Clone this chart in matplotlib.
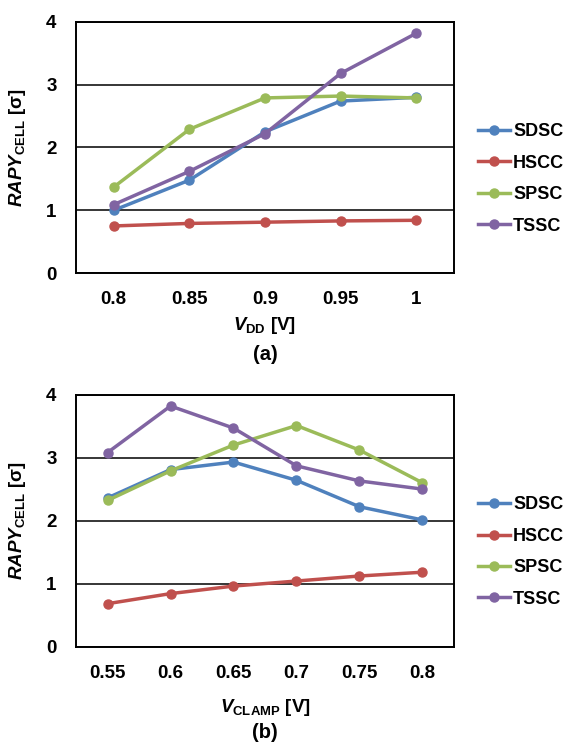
import matplotlib
matplotlib.use('Agg')
import matplotlib.pyplot as plt

plt.rcParams['font.family'] = ['Liberation Sans', 'DejaVu Sans']
plt.rcParams['font.weight'] = 'bold'
plt.rcParams['mathtext.fontset'] = 'custom'
plt.rcParams['mathtext.it'] = 'Liberation Sans:italic:bold'
plt.rcParams['mathtext.rm'] = 'Liberation Sans:bold'
plt.rcParams['mathtext.bf'] = 'Liberation Sans:bold'

# cell names and colours
cells = ['SDSC', 'HSCC', 'SPSC', 'TSSC']
colors = ['#4F81BD', '#C0504D', '#9BBB59', '#8064A2']

# (a) sweep of VDD
vdd = ['0.8', '0.85', '0.9', '0.95', '1']
vdd_sdsc = [1.00, 1.48, 2.25, 2.74, 2.80]
vdd_hscc = [0.75, 0.79, 0.81, 0.83, 0.84]
vdd_spsc = [1.37, 2.29, 2.79, 2.82, 2.79]
vdd_tssc = [1.09, 1.62, 2.22, 3.18, 3.82]

# (b) sweep of VCLAMP
vclamp = ['0.55', '0.6', '0.65', '0.7', '0.75', '0.8']
vcl_sdsc = [2.36, 2.81, 2.93, 2.64, 2.22, 2.01]
vcl_hscc = [0.68, 0.84, 0.96, 1.04, 1.12, 1.18]
vcl_spsc = [2.32, 2.79, 3.20, 3.51, 3.12, 2.60]
vcl_tssc = [3.08, 3.82, 3.47, 2.87, 2.63, 2.50]

W, H = 566, 747
FS = 13.5
fig = plt.figure(figsize=(W / 100, H / 100), dpi=100)


def draw(ax, xs, series, xlabel, xlabel_y, tag, tag_y):
    pos = list(range(len(xs)))
    for name, col, ys in zip(cells, colors, series):
        ax.plot(pos, ys, color=col, lw=2.5, marker='o', ms=6.5, label=name, zorder=3)
    ax.set_xlim(-0.5, len(xs) - 0.5)
    ax.set_ylim(0, 4)
    ax.set_yticks([0, 1, 2, 3, 4])
    ax.set_xticks(pos)
    ax.set_xticklabels(xs)
    ax.tick_params(length=0, labelsize=FS)
    ax.tick_params(axis='y', pad=14)
    ax.tick_params(axis='x', pad=13)
    for lab in ax.get_xticklabels() + ax.get_yticklabels():
        lab.set_fontweight('bold')
    ax.yaxis.grid(True, color='black', lw=1.1)
    ax.set_axisbelow(True)
    for sp in ax.spines.values():
        sp.set_linewidth(1.4)
        sp.set_color('black')
    ax.set_ylabel(r'$\mathit{RAPY}_{\mathrm{CELL}}$ [σ]', fontsize=FS, fontweight='bold')
    ax.yaxis.set_label_coords(-(76 - 28) / 378, 0.5)
    ax.legend(loc='center left', bbox_to_anchor=(1.02, 0.375), frameon=False,
              handlelength=1.8, handletextpad=0.16, labelspacing=0.8,
              prop={'weight': 'bold', 'size': 13})
    # axis title and panel tag, placed in figure pixels
    cx = (76 + 454) / 2 / W
    fig.text(cx, 1 - xlabel_y / H, xlabel, ha='center', va='center', fontsize=FS, fontweight='bold')
    fig.text(cx, 1 - tag_y / H, tag, ha='center', va='center', fontsize=FS + 1, fontweight='bold')


ax1 = fig.add_axes([76 / W, 1 - 273 / H, 378 / W, 251 / H])
draw(ax1, vdd, [vdd_sdsc, vdd_hscc, vdd_spsc, vdd_tssc],
     r'$\mathit{V}_{\mathrm{DD}}$ [V]', 326, '(a)', 355)

ax2 = fig.add_axes([76 / W, 1 - 646.5 / H, 378 / W, 251.8 / H])
draw(ax2, vclamp, [vcl_sdsc, vcl_hscc, vcl_spsc, vcl_tssc],
     r'$\mathit{V}_{\mathrm{CLAMP}}$ [V]', 707, '(b)', 733)

fig.savefig('out.png', dpi=100)
